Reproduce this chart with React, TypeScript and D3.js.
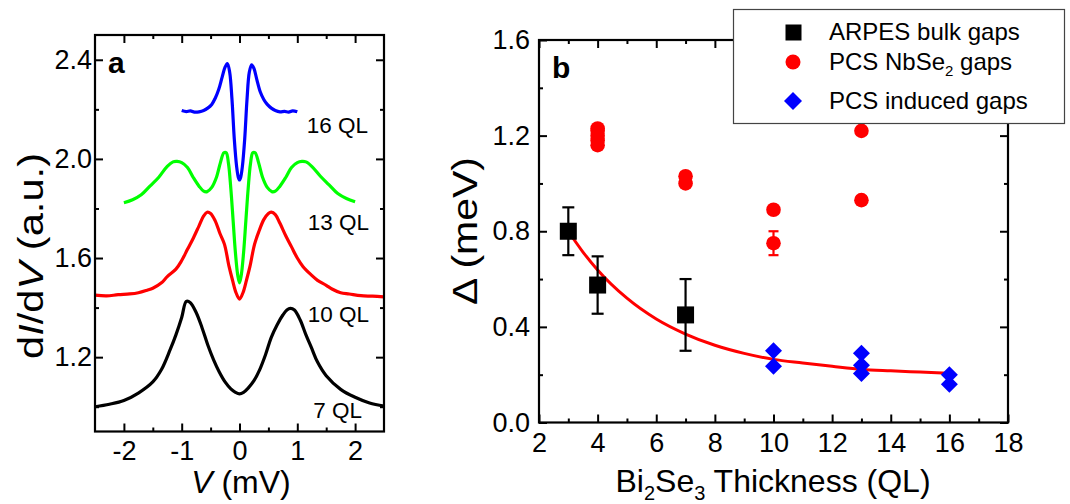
import React, { useRef, useEffect } from 'react';
import * as d3 from 'd3';

// ---- panel a: dI/dV spectra, bias V in mV
const v7 = [-2.5, -2.25, -2, -1.75, -1.5, -1.35, -1.2, -1.1, -1.0, -0.92, -0.85, -0.75, -0.65, -0.55, -0.45, -0.35, -0.25, -0.15, -0.07, 0, 0.07, 0.15, 0.25, 0.35, 0.45, 0.55, 0.65, 0.75, 0.82, 0.88, 0.95, 1.05, 1.15, 1.25, 1.35, 1.5, 1.75, 2, 2.25, 2.5];
const g7 = [1.0, 1.01, 1.025, 1.055, 1.1, 1.15, 1.23, 1.29, 1.36, 1.425, 1.42, 1.38, 1.32, 1.25, 1.19, 1.14, 1.1, 1.072, 1.058, 1.052, 1.058, 1.075, 1.105, 1.15, 1.21, 1.28, 1.33, 1.37, 1.39, 1.397, 1.39, 1.35, 1.29, 1.235, 1.18, 1.125, 1.07, 1.038, 1.015, 1.003];

const v10 = [-2.5, -2.3, -2.1, -1.9, -1.75, -1.6, -1.5, -1.35, -1.25, -1.1, -1.0, -0.9, -0.8, -0.7, -0.62, -0.56, -0.5, -0.42, -0.34, -0.26, -0.18, -0.12, -0.06, 0, 0.06, 0.12, 0.18, 0.26, 0.34, 0.42, 0.5, 0.55, 0.62, 0.7, 0.8, 0.9, 1.0, 1.1, 1.25, 1.35, 1.5, 1.6, 1.75, 1.9, 2.1, 2.3, 2.5];
const g10 = [1.45, 1.447, 1.452, 1.455, 1.46, 1.47, 1.478, 1.5, 1.525, 1.555, 1.59, 1.635, 1.68, 1.73, 1.77, 1.785, 1.78, 1.75, 1.7, 1.655, 1.565, 1.51, 1.46, 1.434, 1.46, 1.51, 1.565, 1.655, 1.71, 1.755, 1.78, 1.785, 1.775, 1.74, 1.69, 1.645, 1.6, 1.565, 1.53, 1.51, 1.49, 1.475, 1.46, 1.455, 1.448, 1.446, 1.443];

const v13 = [-2.0, -1.85, -1.7, -1.55, -1.4, -1.25, -1.15, -1.08, -1.0, -0.9, -0.8, -0.7, -0.62, -0.56, -0.48, -0.4, -0.33, -0.27, -0.23, -0.19, -0.15, -0.11, -0.07, -0.03, 0, 0.03, 0.07, 0.11, 0.15, 0.19, 0.23, 0.27, 0.33, 0.4, 0.48, 0.56, 0.62, 0.7, 0.8, 0.9, 1.0, 1.08, 1.15, 1.25, 1.4, 1.55, 1.7, 1.85, 2.0];
const g13 = [1.823, 1.835, 1.855, 1.89, 1.925, 1.97, 1.988, 1.99, 1.985, 1.965, 1.925, 1.89, 1.87, 1.868, 1.885, 1.925, 1.985, 2.025, 2.025, 1.98, 1.88, 1.75, 1.62, 1.53, 1.5, 1.53, 1.62, 1.75, 1.88, 1.98, 2.025, 2.025, 1.985, 1.925, 1.885, 1.868, 1.87, 1.89, 1.925, 1.965, 1.985, 1.99, 1.988, 1.97, 1.93, 1.895, 1.86, 1.84, 1.827];

const v16 = [-1.0, -0.92, -0.85, -0.78, -0.7, -0.62, -0.55, -0.48, -0.42, -0.36, -0.3, -0.25, -0.21, -0.17, -0.13, -0.09, -0.05, -0.02, 0, 0.02, 0.05, 0.09, 0.13, 0.17, 0.21, 0.25, 0.3, 0.36, 0.42, 0.48, 0.55, 0.62, 0.7, 0.78, 0.85, 0.92, 1.0];
const g16 = [2.195, 2.191, 2.194, 2.189, 2.19, 2.195, 2.205, 2.22, 2.245, 2.28, 2.33, 2.37, 2.385, 2.35, 2.24, 2.08, 1.97, 1.925, 1.915, 1.925, 1.97, 2.08, 2.24, 2.35, 2.38, 2.365, 2.32, 2.27, 2.24, 2.22, 2.205, 2.195, 2.19, 2.192, 2.189, 2.194, 2.19];

const spectraLabels = ['7 QL', '10 QL', '13 QL', '16 QL'];
const spectraColors = ['#000000', '#ff0000', '#00ff00', '#0000ff'];

// ---- panel b: gaps vs Bi2Se3 thickness
const arpesQL = [3, 4, 7];
const arpesGap = [0.8, 0.575, 0.45];
const arpesErr = [0.1, 0.12, 0.15];

const nbseQL = [4, 4, 4, 4, 4, 7, 7, 10, 10, 13, 13];
const nbseGap = [1.16, 1.18, 1.2, 1.22, 1.23, 1.0, 1.03, 0.89, 0.75, 1.22, 0.93];
const nbseErr = [0, 0, 0, 0, 0, 0, 0, 0, 0.05, 0, 0];

const indQL = [10, 10, 13, 13, 13, 16, 16];
const indGap = [0.3, 0.235, 0.29, 0.24, 0.205, 0.2, 0.16];

const fitQL = [3, 3.5, 4, 5, 6, 7, 8, 9, 10, 11, 12, 13, 14, 15, 16];
const fitGap = [0.8, 0.713, 0.638, 0.52, 0.433, 0.37, 0.323, 0.289, 0.264, 0.249, 0.235, 0.222, 0.216, 0.211, 0.206];

const FONT = "'Liberation Sans', Arial, Helvetica, sans-serif";

function frame(svg: any, x: any, y: any, o: any) {
  const [x0, x1] = x.range();
  const [y0, y1] = y.range();
  const sides = [
    { gen: d3.axisBottom, s: x, tr: `translate(0,${y0})`, maj: o.xMajor, min: o.xMinor, fmt: o.xFmt, pad: o.xPad },
    { gen: d3.axisTop, s: x, tr: `translate(0,${y1})`, maj: o.xMajor, min: o.xMinor, fmt: null, pad: 0 },
    { gen: d3.axisLeft, s: y, tr: `translate(${x0},0)`, maj: o.yMajor, min: o.yMinor, fmt: o.yFmt, pad: o.yPad },
    { gen: d3.axisRight, s: y, tr: `translate(${x1},0)`, maj: o.yMajor, min: o.yMinor, fmt: null, pad: 0 },
  ];
  sides.forEach((sd) => {
    const gMaj = svg.append('g').attr('transform', sd.tr)
      .call(sd.gen(sd.s).tickValues(sd.maj).tickSize(-8).tickSizeOuter(0).tickPadding(sd.pad)
        .tickFormat(sd.fmt ? sd.fmt : () => ''));
    const gMin = svg.append('g').attr('transform', sd.tr)
      .call(sd.gen(sd.s).tickValues(sd.min).tickSize(-4).tickSizeOuter(0).tickFormat(() => ''));
    [gMaj, gMin].forEach((g) => {
      g.select('.domain').remove();
      g.attr('font-family', FONT).attr('font-size', 27);
      g.selectAll('line').attr('stroke', '#000').attr('stroke-width', 2);
      g.selectAll('text').attr('fill', '#000');
    });
  });
  svg.append('rect')
    .attr('x', x0).attr('y', y1).attr('width', x1 - x0).attr('height', y0 - y1)
    .attr('fill', 'none').attr('stroke', '#000').attr('stroke-width', 2.2);
}

function Chart() {
  const canvas = useRef<HTMLDivElement>(null);

  useEffect(() => {
    d3.select(canvas.current).select('svg').remove();
    const svg = d3.select(canvas.current)
      .append('svg')
      .attr('width', 1070)
      .attr('height', 504)
      .style('position', 'absolute').style('left', '0px').style('top', '0px')
      .attr('font-family', FONT);

    svg.append('rect').attr('width', 1070).attr('height', 504).attr('fill', '#fff');

    // ================= panel a
    const xA = d3.scaleLinear().domain([-2.5, 2.5]).range([95, 384]);
    const yA = d3.scaleLinear().domain([0.9, 2.5]).range([431.5, 35]);
    const pa = svg.append('g');

    const series = [[v7, g7], [v10, g10], [v13, g13], [v16, g16]];
    const lineA = d3.line<[number, number]>()
      .x((d) => xA(d[0])).y((d) => yA(d[1]))
      .curve(d3.curveCatmullRom.alpha(0.5));
    pa.append('g').selectAll('path')
      .data(series)
      .enter()
      .append('path')
      .attr('d', (s: any) => lineA(s[0].map((v: number, i: number) => [v, s[1][i]])))
      .attr('fill', 'none')
      .attr('stroke', (_d: any, i: number) => spectraColors[i])
      .attr('stroke-width', 3.2)
      .attr('stroke-linejoin', 'round');

    frame(pa, xA, yA, {
      xMajor: [-2, -1, 0, 1, 2], xMinor: [-1.5, -0.5, 0.5, 1.5], xFmt: (d: any) => String(d), xPad: 9,
      yMajor: [1.2, 1.6, 2.0, 2.4], yMinor: [1.0, 1.4, 1.8, 2.2], yFmt: d3.format('.1f'), yPad: 3,
    });

    const labY = [418, 322, 230, 133];
    const labX = [362, 369, 369, 368];
    pa.selectAll('text.ql').data(spectraLabels).enter().append('text')
      .attr('class', 'ql')
      .attr('x', (_d, i) => labX[i]).attr('y', (_d, i) => labY[i])
      .attr('text-anchor', 'end').attr('font-size', 22.5).text((d) => d);

    pa.append('text').attr('x', 108).attr('y', 73).attr('font-size', 30)
      .attr('font-weight', 'bold').text('a');

    const xtA = pa.append('text').attr('x', 241).attr('y', 493).attr('text-anchor', 'middle').attr('font-size', 32);
    xtA.append('tspan').attr('font-style', 'italic').text('V');
    xtA.append('tspan').text(' (mV)');

    const ytA = pa.append('text').attr('transform', 'translate(43,256) rotate(-90)')
      .attr('text-anchor', 'middle').attr('font-size', 35)
      .attr('textLength', 206).attr('lengthAdjust', 'spacingAndGlyphs');
    ytA.append('tspan').text('d');
    ytA.append('tspan').attr('font-style', 'italic').text('I');
    ytA.append('tspan').text('/d');
    ytA.append('tspan').attr('font-style', 'italic').text('V');
    ytA.append('tspan').text(' (a.u.)');

    // ================= panel b
    const xB = d3.scaleLinear().domain([2, 18]).range([539, 1008]);
    const yB = d3.scaleLinear().domain([0, 1.6]).range([422.5, 40]);
    const pb = svg.append('g');

    frame(pb, xB, yB, {
      xMajor: d3.range(2, 19, 2), xMinor: d3.range(3, 18, 2), xFmt: (d: any) => String(d), xPad: 10,
      yMajor: [0, 0.4, 0.8, 1.2, 1.6], yMinor: [0.2, 0.6, 1.0, 1.4], yFmt: d3.format('.1f'), yPad: 9,
    });

    // fit curve
    const lineB = d3.line<number>()
      .x((_d, i) => xB(fitQL[i])).y((d) => yB(d))
      .curve(d3.curveMonotoneX);
    pb.append('path').attr('d', lineB(fitGap))
      .attr('fill', 'none').attr('stroke', '#ff0000').attr('stroke-width', 3);

    // error bars
    const errBars = (qs: number[], vs: number[], es: number[], color: string, cap: number) => {
      const g = pb.append('g').attr('stroke', color).attr('stroke-width', 2.2);
      qs.forEach((q, i) => {
        if (!es[i]) return;
        const cx = xB(q);
        g.append('line').attr('x1', cx).attr('x2', cx).attr('y1', yB(vs[i] - es[i])).attr('y2', yB(vs[i] + es[i]));
        [vs[i] - es[i], vs[i] + es[i]].forEach((v) => {
          g.append('line').attr('x1', cx - cap).attr('x2', cx + cap).attr('y1', yB(v)).attr('y2', yB(v));
        });
      });
    };
    errBars(arpesQL, arpesGap, arpesErr, '#000', 6);
    errBars(nbseQL, nbseGap, nbseErr, '#ff0000', 5);

    pb.append('g').selectAll('rect').data(arpesGap).enter().append('rect')
      .attr('x', (_d, i) => xB(arpesQL[i]) - 8.5).attr('y', (d) => yB(d) - 8.5)
      .attr('width', 17).attr('height', 17).attr('fill', '#000');

    pb.append('g').selectAll('circle').data(nbseGap).enter().append('circle')
      .attr('cx', (_d, i) => xB(nbseQL[i])).attr('cy', (d) => yB(d))
      .attr('r', 7.3).attr('fill', '#ff0000');

    const diamond = (cx: number, cy: number, r: number) =>
      `M${cx},${cy - r}L${cx + r},${cy}L${cx},${cy + r}L${cx - r},${cy}Z`;
    pb.append('g').selectAll('path').data(indGap).enter().append('path')
      .attr('d', (d, i) => diamond(xB(indQL[i]), yB(d), 8.5))
      .attr('fill', '#0000ff');

    pb.append('text').attr('x', 552).attr('y', 78).attr('font-size', 30)
      .attr('font-weight', 'bold').text('b');

    const xtB = pb.append('text').attr('x', 773).attr('y', 492).attr('text-anchor', 'middle').attr('font-size', 32);
    xtB.append('tspan').text('Bi');
    xtB.append('tspan').attr('font-size', 20).attr('dy', 8).text('2');
    xtB.append('tspan').attr('dy', -8).text('Se');
    xtB.append('tspan').attr('font-size', 20).attr('dy', 8).text('3');
    xtB.append('tspan').attr('dy', -8).text(' Thickness (QL)');

    pb.append('text').attr('transform', 'translate(477,231) rotate(-90)')
      .attr('text-anchor', 'middle').attr('font-size', 35)
      .attr('textLength', 148).attr('lengthAdjust', 'spacingAndGlyphs')
      .text('\u0394 (meV)');

    // legend
    const lg = svg.append('g');
    lg.append('rect').attr('x', 733.5).attr('y', 9.5).attr('width', 331).attr('height', 114)
      .attr('fill', '#fff').attr('stroke', '#444').attr('stroke-width', 1.2);
    lg.append('rect').attr('x', 785.5).attr('y', 24.5).attr('width', 16).attr('height', 16).attr('fill', '#000');
    lg.append('circle').attr('cx', 793).attr('cy', 62).attr('r', 7.5).attr('fill', '#ff0000');
    lg.append('path').attr('d', diamond(793, 101, 9)).attr('fill', '#0000ff');
    lg.append('text').attr('x', 829).attr('y', 39.5).attr('font-size', 24).text('ARPES bulk gaps');
    const l2 = lg.append('text').attr('x', 829).attr('y', 70).attr('font-size', 24);
    l2.append('tspan').text('PCS NbSe');
    l2.append('tspan').attr('font-size', 15).attr('dy', 6).text('2');
    l2.append('tspan').attr('dy', -6).text(' gaps');
    lg.append('text').attr('x', 829).attr('y', 108.5).attr('font-size', 24).text('PCS induced gaps');
  }, []);

  return <div ref={canvas}></div>;
}

export default function App() {
  return <Chart />;
}
